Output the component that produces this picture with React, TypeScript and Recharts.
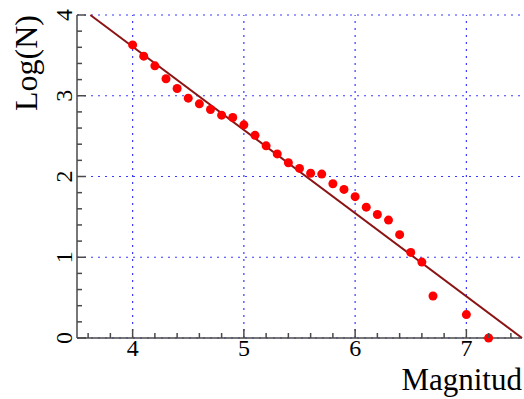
import React from 'react';
import { ScatterChart, Scatter, XAxis, YAxis, ReferenceLine } from 'recharts';

// observed points (magnitude, log N)
const magnitudes = [4.0, 4.1, 4.2, 4.3, 4.4, 4.5, 4.6, 4.7, 4.8, 4.9, 5.0, 5.1, 5.2, 5.3, 5.4, 5.5, 5.6, 5.7, 5.8, 5.9, 6.0, 6.1, 6.2, 6.3, 6.4, 6.5, 6.6, 6.7, 7.0, 7.2];
const logN = [3.63, 3.49, 3.37, 3.21, 3.09, 2.97, 2.9, 2.83, 2.76, 2.73, 2.64, 2.51, 2.38, 2.28, 2.17, 2.1, 2.04, 2.03, 1.91, 1.84, 1.75, 1.62, 1.53, 1.46, 1.28, 1.06, 0.94, 0.52, 0.29, 0.0];

// fitted line endpoints
const fitM = [3.62, 7.5];
const fitLogN = [4.0, 0.0];

const xTicks = [3.6, 3.8, 4.0, 4.2, 4.4, 4.6, 4.8, 5.0, 5.2, 5.4, 5.6, 5.8, 6.0, 6.2, 6.4, 6.6, 6.8, 7.0, 7.2, 7.4];
const yTicks = [0, 0.2, 0.4, 0.6, 0.8, 1, 1.2, 1.4, 1.6, 1.8, 2, 2.2, 2.4, 2.6, 2.8, 3, 3.2, 3.4, 3.6, 3.8, 4];
const xGrid = [4, 5, 6, 7];
const yGrid = [0, 1, 2, 3, 4];

const points = magnitudes.map((m, i) => ({ m, v: logN[i] }));
const fit = fitM.map((m, i) => ({ m, v: fitLogN[i] }));

const FONT = '"Liberation Serif", "DejaVu Serif", serif';
const AXIS = '#4a4a4a';
const GRID = '#3a3aff';

const isMajor = (v: number) => Math.abs(v - Math.round(v)) < 1e-6;

const XTick = (props: any) => {
  const { x, y, payload } = props;
  const major = isMajor(payload.value);
  return (
    <g>
      <line x1={x} x2={x} y1={y} y2={y - (major ? 9 : 5)} stroke={AXIS} strokeWidth={1.5} />
      {major && (
        <text x={x} y={y + 18} textAnchor="middle" fontSize={24} fontFamily={FONT} fill="#000">
          {Math.round(payload.value)}
        </text>
      )}
    </g>
  );
};

const YTick = (props: any) => {
  const { x, y, payload } = props;
  const major = isMajor(payload.value);
  return (
    <g>
      <line x1={x} x2={x + (major ? 9 : 5)} y1={y} y2={y} stroke={AXIS} strokeWidth={1.5} />
      {major && (
        <text transform={`translate(${x - 5},${y}) rotate(-90)`} textAnchor="middle" fontSize={24} fontFamily={FONT} fill="#000">
          {Math.round(payload.value)}
        </text>
      )}
    </g>
  );
};

const Dot = (props: any) => <circle cx={props.cx} cy={props.cy} r={4.5} fill="#ff0000" />;

export default function App() {
  return (
    <div style={{ position: 'absolute', left: 0, top: 0, width: 524, height: 399, background: '#fff' }}>
      <ScatterChart width={524} height={399} margin={{ top: 15, right: 2, left: 0, bottom: 0 }}>
        <XAxis
          type="number"
          dataKey="m"
          domain={[3.5, 7.5]}
          ticks={xTicks}
          interval={0}
          height={61}
          tickSize={0}
          tickMargin={0}
          tickLine={false}
          axisLine={{ stroke: AXIS, strokeWidth: 1.5 }}
          tick={<XTick />}
          label={{
            content: (p: any) => (
              <text x={p.viewBox.x + p.viewBox.width} y={p.viewBox.y + 52} textAnchor="end" fontSize={31} fontFamily={FONT} fill="#000">
                Magnitud
              </text>
            ),
          }}
        />
        <YAxis
          type="number"
          dataKey="v"
          domain={[0, 4]}
          ticks={yTicks}
          interval={0}
          width={77}
          tickSize={0}
          tickMargin={0}
          tickLine={false}
          axisLine={{ stroke: AXIS, strokeWidth: 1.5 }}
          tick={<YTick />}
          label={{
            content: (p: any) => (
              <text transform={`translate(${p.viewBox.x + 37},${p.viewBox.y}) rotate(-90)`} textAnchor="end" fontSize={32} fontFamily={FONT} fill="#000">
                Log(N)
              </text>
            ),
          }}
        />
        {xGrid.map((g) => (
          <ReferenceLine key={`x${g}`} x={g} stroke={GRID} strokeDasharray="2 5" strokeWidth={1.2} />
        ))}
        {yGrid.map((g) => (
          <ReferenceLine key={`y${g}`} y={g} stroke={GRID} strokeDasharray="2 5" strokeWidth={1.2} />
        ))}
        <Scatter data={fit} line={{ stroke: '#8b1414', strokeWidth: 2 }} shape={() => <g />} isAnimationActive={false} />
        <Scatter data={points} shape={<Dot />} isAnimationActive={false} />
      </ScatterChart>
    </div>
  );
}
